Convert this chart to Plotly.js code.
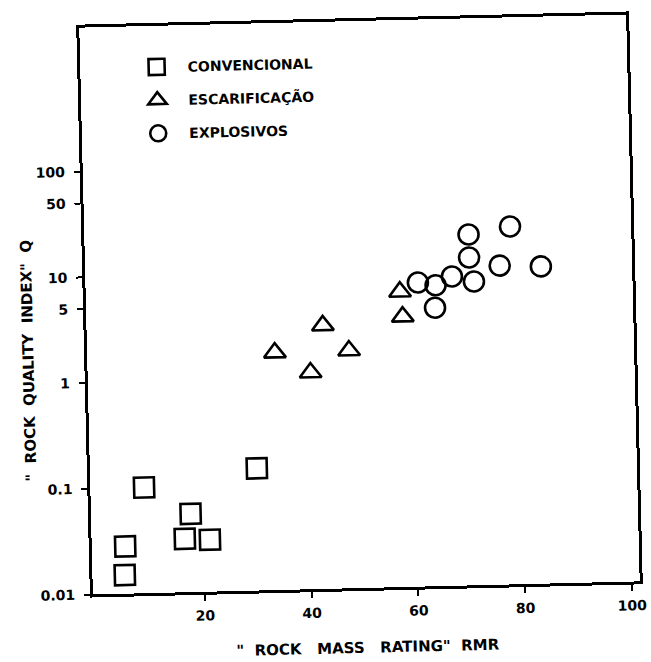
<!DOCTYPE html>
<html><head><meta charset="utf-8">
<script src="https://cdn.plot.ly/plotly-3.0.1.min.js"></script>
<style>
html,body{margin:0;padding:0;background:#fff;overflow:hidden}
#chart{width:651px;height:662px;transform-origin:359.5px 304.75px;transform:rotate(-1.375deg)}
</style></head><body><div id="chart"></div>
<script>
// Data (RMR vs Q)
const convencionalRMR = [9.1, 30.3, 17.7, 16.5, 21.2, 5.3, 5.1];
const convencionalQ   = [0.100, 0.143, 0.055, 0.032, 0.031, 0.028, 0.015];
const escarificacaoRMR = [34.2, 40.8, 43.3, 48.1, 57.9, 58.3];
const escarificacaoQ   = [1.76, 1.12, 3.1, 1.77, 6.2, 3.6];
const explosivosRMR = [61.3, 64.6, 67.7, 71.8, 71.0, 71.0, 76.7, 78.8, 84.4, 64.4];
const explosivosQ   = [7.5, 7.0, 8.4, 7.45, 12.6, 20.8, 10.4, 24.2, 10.0, 4.3];
const seriesNames = ["CONVENCIONAL", "ESCARIFICAÇÃO", "EXPLOSIVOS"];
const xTickVals = [20, 40, 60, 80, 100];
const xTickText = ["20", "40", "60", "80", "100"];
const yTickVals = [0.01, 0.1, 1, 5, 10, 50, 100];
const yTickText = ["0.01", "0.1", "1", "5", "10", "50", "100"];
const xTitle = '"  ROCK   MASS   RATING"  RMR';
const yTitle = '"  ROCK  QUALITY  INDEX"  Q';

const F = {family: "DejaVu Sans", weight: "bold", color: "#000"};
function mk(sym, size) {
  return {symbol: sym, size: size, color: "#000", line: {color: "#000", width: 2.6}};
}
const traces = [
  {x: convencionalRMR, y: convencionalQ, name: seriesNames[0], legendgroup: "a",
   mode: "markers", type: "scatter", marker: mk("square-open", 20)},
  {x: escarificacaoRMR, y: escarificacaoQ, name: seriesNames[1], legendgroup: "b",
   mode: "markers", type: "scatter", marker: mk("triangle-up-open", 19)},
  {x: explosivosRMR, y: explosivosQ, name: seriesNames[2], legendgroup: "c",
   mode: "markers", type: "scatter", marker: mk("circle-open", 20)}
];
const axisCommon = {
  showline: true, mirror: true, linewidth: 3, linecolor: "#000",
  ticks: "outside", ticklen: 6, tickwidth: 2, tickcolor: "#000",
  showgrid: false, zeroline: false,
  tickfont: Object.assign({size: 14}, F)
};
const layout = {
  width: 651, height: 662,
  margin: {l: 86, r: 18, t: 21, b: 74},
  paper_bgcolor: "#fff", plot_bgcolor: "#fff",
  font: Object.assign({size: 14}, F),
  showlegend: true,
  legend: {x: 0.083, y: 0.955, xanchor: "left", yanchor: "top",
           bgcolor: "rgba(0,0,0,0)", borderwidth: 0, itemwidth: 52,
           tracegroupgap: 12, font: Object.assign({size: 14}, F)},
  xaxis: Object.assign({}, axisCommon, {
    range: [-0.97, 101.5], tickmode: "array", tickvals: xTickVals, ticktext: xTickText,
    ticklabelstandoff: 3,
    title: {text: xTitle, font: Object.assign({size: 15}, F), standoff: 24}
  }),
  yaxis: Object.assign({}, axisCommon, {
    type: "log", range: [-2, 3.362], tickmode: "array", tickvals: yTickVals, ticktext: yTickText,
    ticklabelstandoff: 6
  }),
  annotations: [{
    text: yTitle, xref: "paper", yref: "paper", x: -0.108, y: 0.415,
    xanchor: "center", yanchor: "middle", textangle: -90, showarrow: false,
    font: Object.assign({size: 15}, F)
  }]
};
Plotly.newPlot("chart", traces, layout, {displayModeBar: false, staticPlot: true});
</script>
</body></html>
